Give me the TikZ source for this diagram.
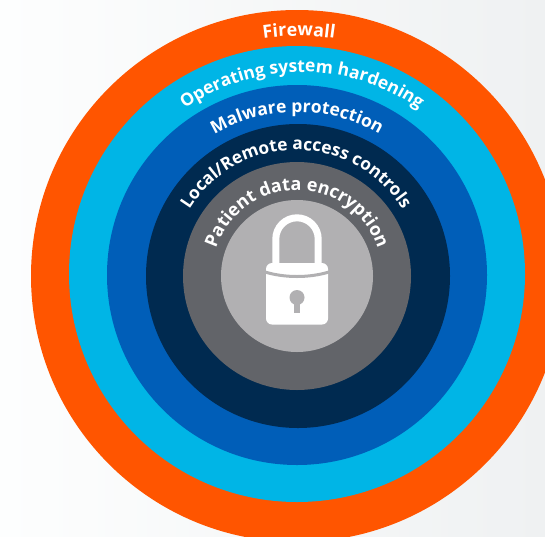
\documentclass[tikz,border=0pt]{standalone}
\usepackage{fontspec}
\setmainfont{Open Sans}
\usetikzlibrary{decorations.text}
\definecolor{cOrange}{HTML}{FF5500}
\definecolor{cCyan}{HTML}{00B5E6}
\definecolor{cBlue}{HTML}{005EB8}
\definecolor{cNavy}{HTML}{002A50}
\definecolor{cGray}{HTML}{626469}
\definecolor{cLight}{HTML}{B1B0B2}
\definecolor{cBackL}{HTML}{FDFEFE}
\definecolor{cBackR}{HTML}{EFF1F2}
\newcommand{\ringlabel}[4]{%
  \path[decorate,decoration={text along path,text align=center,
    text={|\fontsize{#3}{#3}\selectfont\bfseries\color{white}|#4}}]
    (#2-#1,-275) arc[start angle=180,end angle=0,radius=#1];}
\tikzset{ring/.style={fill=#1,draw=none}}
\begin{document}
\begin{tikzpicture}[x=1pt,y=1pt]
\useasboundingbox (0,-536) rectangle (545,0);
\clip (0,-536) rectangle (545,0);
\shade[left color=cBackL,right color=cBackR] (0,-536) rectangle (545,0);
\fill[ring=cOrange] (297,-276) circle[radius=266];
\fill[ring=cCyan] (297,-274) circle[radius=228];
\fill[ring=cBlue] (297,-275) circle[radius=190];
\fill[ring=cNavy] (298,-276) circle[radius=152];
\fill[ring=cGray] (297,-276) circle[radius=114];
\fill[ring=cLight] (297,-276) circle[radius=76];
\ringlabel{239}{299}{18}{Firewall}
\ringlabel{203}{302}{17.5}{Operating system hardening}
\ringlabel{163}{297}{17.5}{Malware protection}
\ringlabel{125}{296}{17.3}{Local/Remote access controls}
\ringlabel{85}{297}{18}{Patient data encryption}
% padlock
\draw[white,line width=7pt] (275.8,-266) -- (275.8,-239) arc[start angle=180,end angle=0,radius=21.2] -- (318.2,-266);
\fill[white,rounded corners=6pt] (266,-263) rectangle (328,-324.5);
\draw[cLight,line width=3pt] (265,-272) .. controls (285,-278) and (309,-278) .. (329,-272);
\fill[cLight] (297,-297.5) circle[radius=7.5];
\fill[cLight] (294,-298) rectangle (300,-312.5);
\end{tikzpicture}
\end{document}
